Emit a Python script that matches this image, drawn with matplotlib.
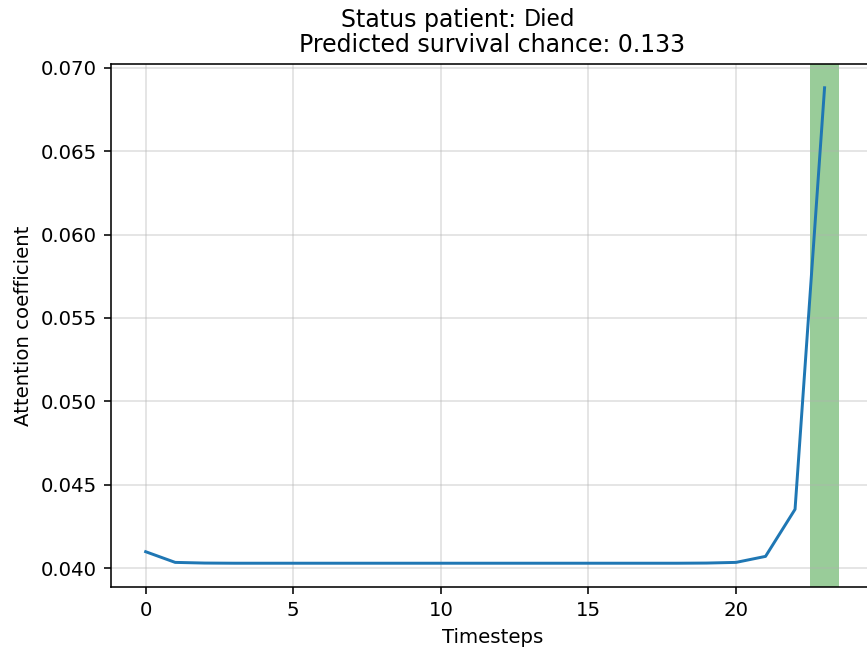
import numpy as np
import matplotlib
matplotlib.use("Agg")
import matplotlib.pyplot as plt

# attention per timestep
timesteps = list(range(24))
attention = [0.04100, 0.04036, 0.04032, 0.04031, 0.04031, 0.04031, 0.04031, 0.04031,
             0.04031, 0.04031, 0.04031, 0.04031, 0.04031, 0.04031, 0.04031, 0.04031,
             0.04031, 0.04031, 0.04031, 0.04032, 0.04036, 0.04072, 0.04354, 0.06879]
highlight = [23]
status = "Died"
survival = 0.133

DPI = 142
fig = plt.figure(figsize=(867 / DPI, 656 / DPI), dpi=DPI)
# right spine falls outside the saved picture, like the reference crop
ax = fig.add_axes([111 / 867, 69 / 656, 763 / 867, 523 / 656])

ax.plot(timesteps, attention, color="tab:blue")
for t in highlight:
    ax.axvspan(t - 0.5, t + 0.5, color="green", alpha=0.4, lw=0)

ax.grid(alpha=0.4)
ax.set_xlabel("Timesteps")
ax.set_ylabel("Attention coefficient")
ax.set_title(f"Predicted survival chance: {survival:.3f}")

t1 = fig.text(341 / 867, 1 - 27 / 656, "Status patient: ", ha="left", va="baseline", fontsize=12)
ax.annotate(status, xy=(1, 0), xycoords=t1, ha="left", va="bottom",
            fontsize=12, family="Noto Sans")

fig.savefig("out.png", dpi=DPI)
